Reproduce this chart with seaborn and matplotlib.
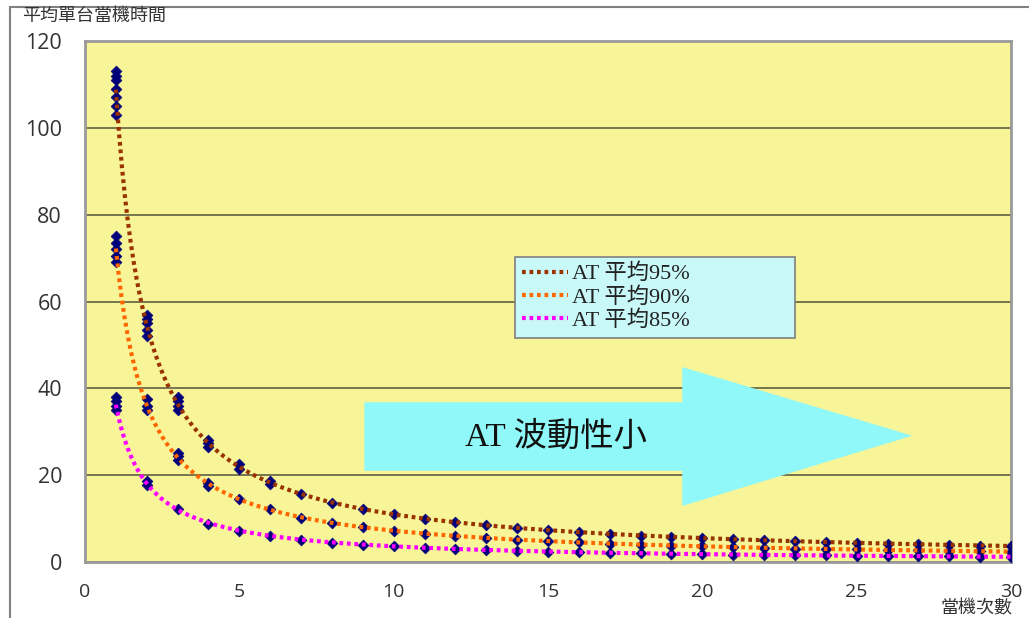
import numpy as np
import pandas as pd
import matplotlib
matplotlib.use("Agg")
import matplotlib.pyplot as plt
from matplotlib.patches import Rectangle, Polygon
import seaborn as sns

# Downtime per machine vs. number of breakdowns, three AT levels
counts = list(range(1, 31))

at95 = [[103, 105, 107, 109, 111, 112, 113], [52, 53.5, 55, 56, 57], [35, 36, 37, 38],
        [26.5, 27.5, 28], [21.5, 22.5], [18, 18.6], [15.7], [13.7], [12.2], [11],
        [10], [9.2], [8.5], [7.9], [7.3], [6.9], [6.5], [6.1], [5.8], [5.5],
        [5.2], [5.0], [4.8], [4.6], [4.4], [4.2], [4.1], [3.9], [3.8], [3.7]]

at90 = [[69, 70.5, 72, 73.5, 75], [35, 36, 37.5], [23.5, 24.5, 25], [17.5, 18.2],
        [14.6], [12.3], [10.2], [9], [8.1], [7.2], [6.5], [6], [5.5], [5.1],
        [4.8], [4.5], [4.2], [4], [3.8], [3.6], [3.4], [3.3], [3.1], [3],
        [2.9], [2.8], [2.7], [2.6], [2.5], [2.4]]

at85 = [[35, 36, 37, 38], [17.8, 18.6], [12.3], [8.8], [7.2], [6], [5.1], [4.3],
        [3.9], [3.6], [3.3], [3], [2.8], [2.6], [2.4], [2.3], [2.1], [2], [1.9],
        [1.8], [1.7], [1.65], [1.6], [1.5], [1.45], [1.4], [1.35], [1.3], [1.25], [1.2]]

series_names = ["AT 平均95%", "AT 平均90%", "AT 平均85%"]
series_colors = ["#993300", "#FF6600", "#FF00FF"]
y_ticks = [0, 20, 40, 60, 80, 100, 120]
x_ticks = [0, 5, 10, 15, 20, 25, 30]

sns.set_style("white")
plt.rcParams["font.family"] = ["Open Sans", "Noto Sans CJK TC", "DejaVu Sans"]
serif_cjk = ["Liberation Serif", "Noto Sans CJK TC"]

# long-form tables for points and fitted power trend lines
rows = []
for name, data in zip(series_names, [at95, at90, at85]):
    for x, vals in zip(counts, data):
        for v in vals:
            rows.append({"series": name, "x": x, "y": v})
points = pd.DataFrame(rows)

trend_rows = []
xs = np.linspace(1, 30, 300)
for name in series_names:
    sub = points[points["series"] == name]
    b, a = np.polyfit(np.log(sub["x"]), np.log(sub["y"]), 1)
    for x in xs:
        trend_rows.append({"series": name, "x": x, "y": np.exp(a) * x ** b})
trend = pd.DataFrame(trend_rows)

fig = plt.figure(figsize=(10.29, 6.18), dpi=100)
ax = fig.add_axes([85 / 1029, 1 - 562 / 618, (1011 - 85) / 1029, (562 - 41) / 618])

# outer chart frame
fig.patches.append(Rectangle((10 / 1029, -0.1), 1.2, 1 - 7 / 618 + 0.1,
                             transform=fig.transFigure, fill=False,
                             edgecolor="#808080", linewidth=1.5, zorder=0))

ax.set_facecolor("#F8F598")
for sp in ax.spines.values():
    sp.set_color("#9A9A9A")
    sp.set_linewidth(2)

ax.set_xlim(0, 30)
ax.set_ylim(0, 120)
ax.set_yticks(y_ticks)
ax.set_xticks(x_ticks)
ax.yaxis.grid(True, color="#6B6B4A", linewidth=1.3)
ax.set_axisbelow(True)

ax.tick_params(axis="y", length=0, labelsize=15.5, labelcolor="#333333", pad=16.5)
ax.tick_params(axis="x", which="both", direction="out", length=0,
               labelsize=14, labelcolor="#333333", pad=15)

# arrow annotation
arrow = Polygon([(9.05, 36.8), (19.35, 36.8), (19.35, 44.9), (26.8, 29.1),
                 (19.35, 12.9), (19.35, 21.0), (9.05, 21.0)],
                closed=True, facecolor="#90F8F8", edgecolor="none", zorder=1.5)
ax.add_patch(arrow)
ax.text(15.25, 28.8, "AT 波動性小", ha="center", va="center", fontsize=24,
        family=serif_cjk, color="#111111", zorder=2)

sns.scatterplot(data=points, x="x", y="y", ax=ax, marker="D", s=30,
                color="#00007A", edgecolor="#00007A", linewidth=0.5,
                legend=False, zorder=3)
sns.lineplot(data=trend, x="x", y="y", hue="series", palette=series_colors,
             hue_order=series_names, ax=ax, linewidth=3,
             linestyle=(0, (0.9, 0.9)), zorder=4)

ax.set_xlabel("")
ax.set_ylabel("")

leg = ax.legend(loc="upper left", bbox_to_anchor=(0.4644, 0.2297, 0.3024, 0.3557),
                mode="expand", frameon=True, fancybox=False, edgecolor="#7F7F7F",
                facecolor="#C8F8F8", framealpha=1, handlelength=2.1,
                handletextpad=0.15, labelspacing=0.12, borderpad=0.3,
                borderaxespad=0, prop={"family": serif_cjk, "size": 16})
leg.get_frame().set_linewidth(1.2)
for line in leg.get_lines():
    line.set_linestyle((0, (0.9, 0.9)))
    line.set_linewidth(3)
for t in leg.get_texts():
    t.set_color("#222222")

fig.text(22 / 1029, 1 - 16 / 618, "平均單台當機時間", fontsize=13, color="#333333",
         ha="left", va="center", family=["Noto Sans CJK TC"])
fig.text(1013 / 1029, 1 - 608 / 618, "當機次數", fontsize=13, color="#333333",
         ha="right", va="center", family=["Noto Sans CJK TC"])

fig.savefig("out.png", dpi=100)
